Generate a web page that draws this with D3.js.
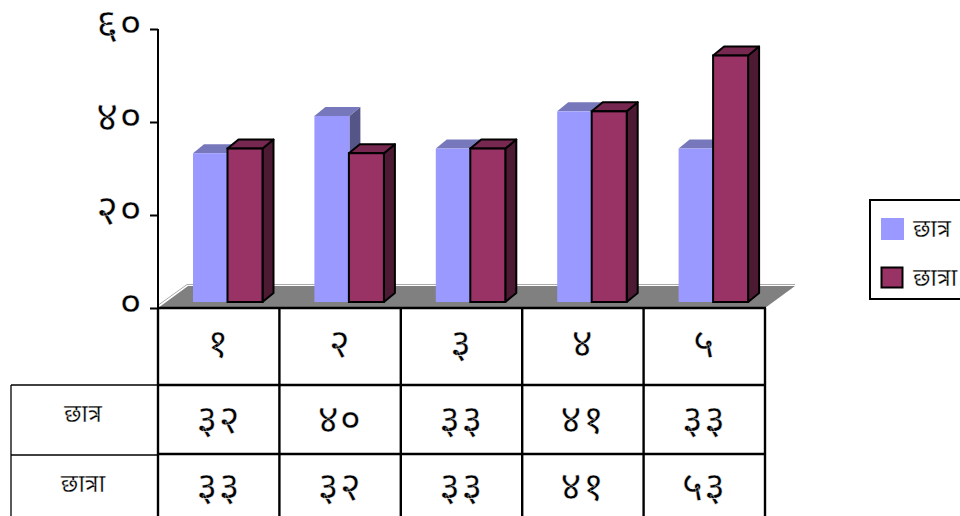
<!DOCTYPE html>
<html><head><meta charset="utf-8">
<script src="https://cdnjs.cloudflare.com/ajax/libs/d3/7.8.5/d3.min.js"></script>
<style>html,body{margin:0;padding:0;background:#fff;overflow:hidden}
text{font-family:"Noto Sans","Noto Sans Devanagari","Lohit Devanagari","DejaVu Sans",sans-serif;fill:#000}
.num{stroke:#fff;stroke-width:.35px;letter-spacing:1.5px}
.lab{stroke:#fff;stroke-width:.3px}</style>
</head><body><svg id="c" width="960" height="516"></svg>
<script>
const categories=["१","२","३","४","५"];
const seriesNames=["छात्र","छात्रा"];
const boys=[32,40,33,41,33];
const girls=[33,32,33,41,53];
const yTicks=[0,20,40,60];
const deva=n=>String(n).replace(/\d/g,d=>"०१२३४५६७८९"[+d]);
const colors=[{f:"#9999ff",t:"#7777bb",s:"#555588"},{f:"#993366",t:"#772850",s:"#4d1a33"}];

const svg=d3.select("#c");
const x0=158,x1=765,yTop=29,yBot=308;
const x=d3.scaleBand().domain(d3.range(5)).range([x0,x1]);
const y=d3.scaleLinear().domain([0,60]).range([yBot,yTop]);
const fdx=30,fdy=-22,bdx=11,bdy=-9,baseLift=6,bw=35,inset=35;
const barY=v=>y(v)-baseLift;

// floor
svg.append("path").attr("d",`M${x0},${yBot}L${x0+fdx},${yBot+fdy}H${x1+fdx}L${x1},${yBot}Z`)
  .attr("fill","#808080").attr("stroke","none");
svg.append("path").attr("d",`M${x0-1},${yBot-2}L${x0+fdx-1},${yBot+fdy-1.5}H${x1+fdx}`)
  .attr("fill","none").attr("stroke","#aaa").attr("stroke-width",1);

// bars
function bar(g,xp,v,c,stroke){
  const t=barY(v),b=yBot-baseLift,w=bw;
  const st=stroke?"#000":"none",sw=stroke?2:0;
  g.append("path").attr("d",`M${xp+w},${t}l${bdx},${bdy}V${b+bdy}l${-bdx},${-bdy}Z`).attr("fill",c.s).attr("stroke",st).attr("stroke-width",sw).attr("stroke-linejoin","round");
  g.append("path").attr("d",`M${xp},${t}l${bdx},${bdy}h${w}l${-bdx},${-bdy}Z`).attr("fill",c.t).attr("stroke",st).attr("stroke-width",sw).attr("stroke-linejoin","round");
  g.append("rect").attr("x",xp).attr("y",t).attr("width",w).attr("height",b-t).attr("fill",c.f).attr("stroke",st).attr("stroke-width",sw);
}
const bars=svg.append("g");
categories.forEach((_,i)=>{
  const bx=x(i)+inset;
  bar(bars,bx,boys[i],colors[0],false);
  bar(bars,bx+bw-.5,girls[i],colors[1],true);
});

// axis
const ax=svg.append("g").attr("transform",`translate(${x0},0)`)
  .call(d3.axisLeft(y).tickValues(yTicks).tickSize(8).tickPadding(7).tickFormat(deva));
ax.selectAll("path,line").attr("stroke","#000").attr("stroke-width",2);
ax.select(".domain").attr("d",`M0,${yTop}V${yBot}`);
ax.selectAll("text").attr("class","num").attr("font-size",42).attr("font-family",null).attr("fill","#000").attr("dy","0.2em");

// table
const rows=[308,385,454,520];
const tb=svg.append("g");
const line=(a,b,c,d,w)=>tb.append("line").attr("x1",a).attr("y1",b).attr("x2",c).attr("y2",d).attr("stroke","#000").attr("stroke-width",w);
rows.forEach((r,i)=>line(x0-1,r,x1+1,r,2.4));
d3.range(6).forEach(i=>line(x0+i*x.bandwidth(),yBot,x0+i*x.bandwidth(),516,2.4));
line(11,385,x0,385,1.3);line(11,455,x0,455,1.3);line(11,385,11,516,1.3);
const cell=(cx,cy,s,fs,cls)=>tb.append("text").attr("class",cls).attr("x",cx).attr("y",cy).attr("text-anchor","middle").attr("dominant-baseline","middle").attr("font-size",fs).text(s);
categories.forEach((c,i)=>{
  const cx=x(i)+x.bandwidth()/2;
  cell(cx,346,c,40,"num");
  cell(cx,422,deva(boys[i]),40,"num");
  cell(cx,489,deva(girls[i]),40,"num");
});
cell(83,415,seriesNames[0],25,"lab");
cell(83,485,seriesNames[1],25,"lab");

// legend
const lg=svg.append("g");
lg.append("rect").attr("x",870).attr("y",200).attr("width",100).attr("height",99).attr("fill","#fff").attr("stroke","#000").attr("stroke-width",2);
lg.append("rect").attr("x",881).attr("y",218).attr("width",23).attr("height",22).attr("fill",colors[0].f);
lg.append("rect").attr("x",881.5).attr("y",267.5).attr("width",21).attr("height",20).attr("fill",colors[1].f).attr("stroke","#000").attr("stroke-width",2);
lg.append("text").attr("class","lab").attr("x",913).attr("y",230).attr("dominant-baseline","middle").attr("font-size",25).text(seriesNames[0]);
lg.append("text").attr("class","lab").attr("x",913).attr("y",279).attr("dominant-baseline","middle").attr("font-size",25).text(seriesNames[1]);
</script></body></html>
